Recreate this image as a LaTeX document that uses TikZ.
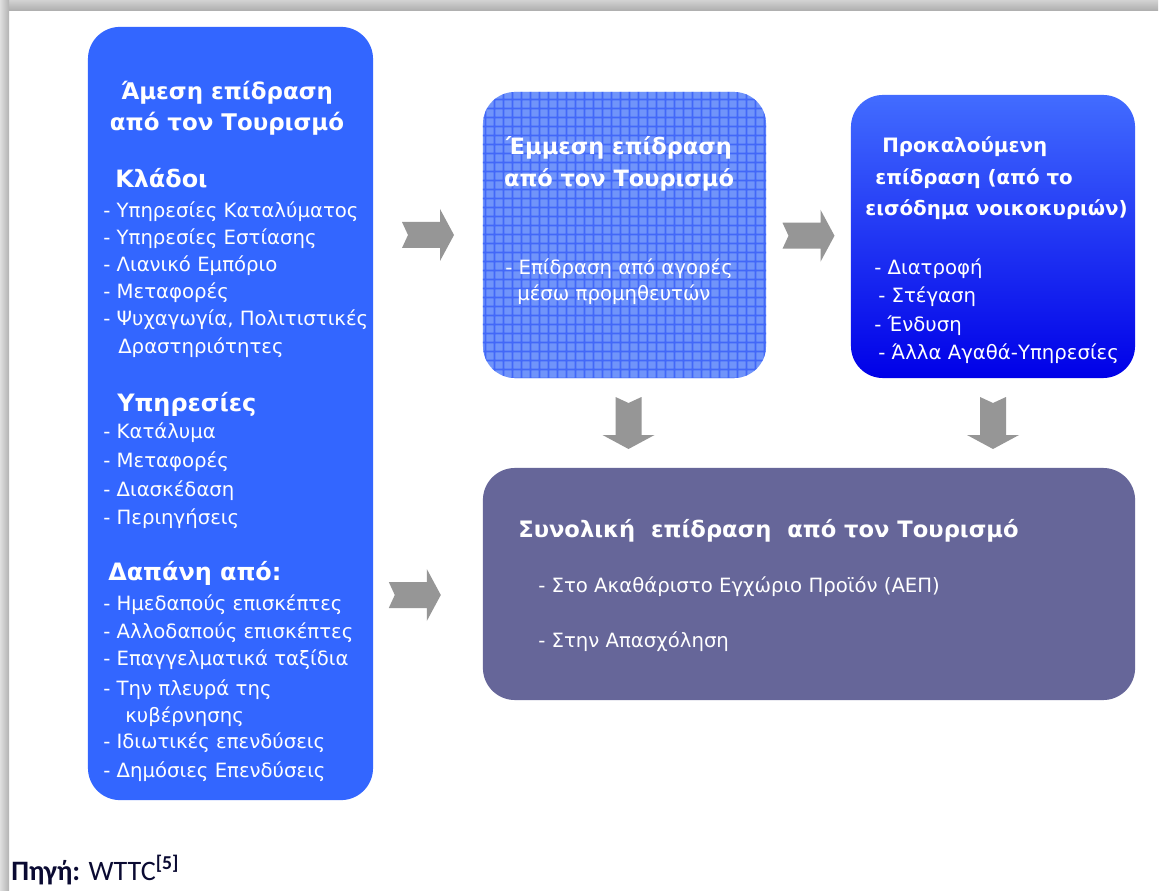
\documentclass[tikz,border=0pt]{standalone}
\usepackage{fontspec}
\setmainfont{DejaVu Sans}
\newfontfamily\sourcefont{Carlito}
\usetikzlibrary{positioning,calc,patterns.meta}

\definecolor{directblue}{RGB}{51,102,255}
\definecolor{hatchbase}{RGB}{112,148,250}
\definecolor{hatchline}{RGB}{66,104,248}
\definecolor{inducedtop}{RGB}{66,108,255}
\definecolor{inducedbottom}{RGB}{0,0,232}
\definecolor{totalpurple}{RGB}{102,102,153}
\definecolor{arrowgray}{RGB}{150,150,150}
\definecolor{sourceink}{RGB}{10,10,50}

\begin{document}
\begin{tikzpicture}[
    x = 0.025cm, y = -0.025cm,
    box/.style = {
      rounded corners = 0.8cm,
      inner sep = 0,
      outer sep = 0,
    },
    title/.style = {
      font = \bfseries\fontsize{16.3}{23}\selectfont,
      text = white, anchor = base, inner sep = 0,
    },
    head/.style = {
      font = \bfseries\fontsize{17}{23}\selectfont,
      text = white, anchor = base west, inner sep = 0,
    },
    item/.style = {
      font = \fontsize{14}{19}\selectfont,
      text = white, anchor = base west, inner sep = 0,
    },
    blockarrow/.pic = {
      \fill[arrowgray] (-26,-13) -- (12,-13) -- (12,-26) -- (26,0)
        -- (12,26) -- (12,13) -- (-26,13) -- (-20,0) -- cycle;
    },
  ]

  % page and its shadow
  \useasboundingbox (0,0) rectangle (1169,891);
  \fill[white] (0,0) rectangle (1169,891);
  \shade[top color = gray!35, bottom color = gray!65] (0,0) rectangle (1158,11);
  \shade[left color = gray!25, right color = gray!60] (0,0) rectangle (9,891);

  % boxes
  \node[box, fill = directblue,
    minimum width = 7.125cm, minimum height = 19.325cm] (direct) at (230.5,413.5) {};
  \node[box, fill = hatchbase,
    postaction = {
      pattern = {Hatch[angle = 0, distance = 6.4pt, line width = 1.1pt]},
      pattern color = hatchline
    },
    minimum width = 7.075cm, minimum height = 7.15cm] (indirect) at (624.5,235) {};
  \node[box, top color = inducedtop, bottom color = inducedbottom,
    minimum width = 7.1cm, minimum height = 7.075cm] (induced) at (993,236.5) {};
  \node[box, fill = totalpurple,
    minimum width = 16.3cm, minimum height = 5.8cm] (total) at (809,584) {};

  % arrows between the boxes
  \pic at ($(direct.east |- indirect.center)!0.5!(indirect.west)$) {blockarrow};
  \pic at ($(indirect.east)!0.5!(induced.west)$) {blockarrow};
  \pic at ($(direct.east |- total.center)!0.38!(total.west) + (0,11)$) {blockarrow};
  \pic[rotate = -90] at ($(indirect.south)!0.5!(indirect.south |- total.north) + (4,0)$) {blockarrow};
  \pic[rotate = -90] at ($(induced.south)!0.5!(induced.south |- total.north)$) {blockarrow};

  % direct effect
  \node[title] (direct-t1) at (227,100) {Άμεση επίδραση};
  \node[title] (direct-t2) at (227,131) {από τον Τουρισμό};

  \node[head] (sectors) at (115,188) {Κλάδοι};
  \foreach \y/\desc in {
    218/{- Υπηρεσίες Καταλύματος},
    245/{- Υπηρεσίες Εστίασης},
    272/{- Λιανικό Εμπόριο},
    299/{- Μεταφορές},
    326/{- Ψυχαγωγία, Πολιτιστικές}
  }{
    \node[item] (sector-\y) at (103,\y) {\desc};
  }
  \node[item] (sector-354) at (118,354) {Δραστηριότητες};

  \node[head] (services) at (117,412) {Υπηρεσίες};
  \foreach \y/\desc in {
    439/{- Κατάλυμα},
    468/{- Μεταφορές},
    496/{- Διασκέδαση},
    524/{- Περιηγήσεις}
  }{
    \node[item] (service-\y) at (103,\y) {\desc};
  }

  \node[head] (spending) at (108,580) {Δαπάνη από:};
  \foreach \y/\desc in {
    610/{- Ημεδαπούς επισκέπτες},
    638/{- Αλλοδαπούς επισκέπτες},
    665/{- Επαγγελματικά ταξίδια},
    695/{- Την πλευρά της},
    748/{- Ιδιωτικές επενδύσεις},
    777/{- Δημόσιες Επενδύσεις}
  }{
    \node[item] (spend-\y) at (103,\y) {\desc};
  }
  \node[item] (spend-722) at (125,722) {κυβέρνησης};

  % indirect effect
  \node[title, font = \bfseries\fontsize{16}{23}\selectfont] (indirect-t1) at (619,155) {Έμμεση επίδραση};
  \node[title, font = \bfseries\fontsize{16}{23}\selectfont] (indirect-t2) at (619,187) {από τον Τουρισμό};
  \node[item] (indirect-1) at (505,275) {- Επίδραση από αγορές};
  \node[item] (indirect-2) at (517,301) {μέσω προμηθευτών};

  % induced effect
  \foreach \x/\y/\desc in {
    882/153/{Προκαλούμενη},
    875/185/{επίδραση (από το},
    865/216/{εισόδημα νοικοκυριών)}
  }{
    \node[head, font = \bfseries\fontsize{14.1}{20}\selectfont] (induced-t\y) at (\x,\y) {\desc};
  }
  \foreach \x/\y/\desc in {
    874/275/{- Διατροφή},
    878/303/{- Στέγαση},
    874/332/{- Ένδυση},
    878/360/{- Άλλα Αγαθά-Υπηρεσίες}
  }{
    \node[item] (induced-\y) at (\x,\y) {\desc};
  }

  % total effect
  \node[head, font = \bfseries\fontsize{16.1}{20}\selectfont] (total-t) at (518,537)
    {Συνολική\ \ επίδραση\ \ από τον Τουρισμό};
  \node[item] (total-1) at (538,592) {- Στο Ακαθάριστο Εγχώριο Προϊόν (ΑΕΠ)};
  \node[item] (total-2) at (538,647) {- Στην Απασχόληση};

  % source
  \node[anchor = base west, inner sep = 0, text = sourceink,
    font = \sourcefont\fontsize{20}{24}\selectfont] (source) at (11,880)
    {\textbf{Πηγή:} WTTC\textsuperscript{\textbf{[5]}}};

\end{tikzpicture}
\end{document}
